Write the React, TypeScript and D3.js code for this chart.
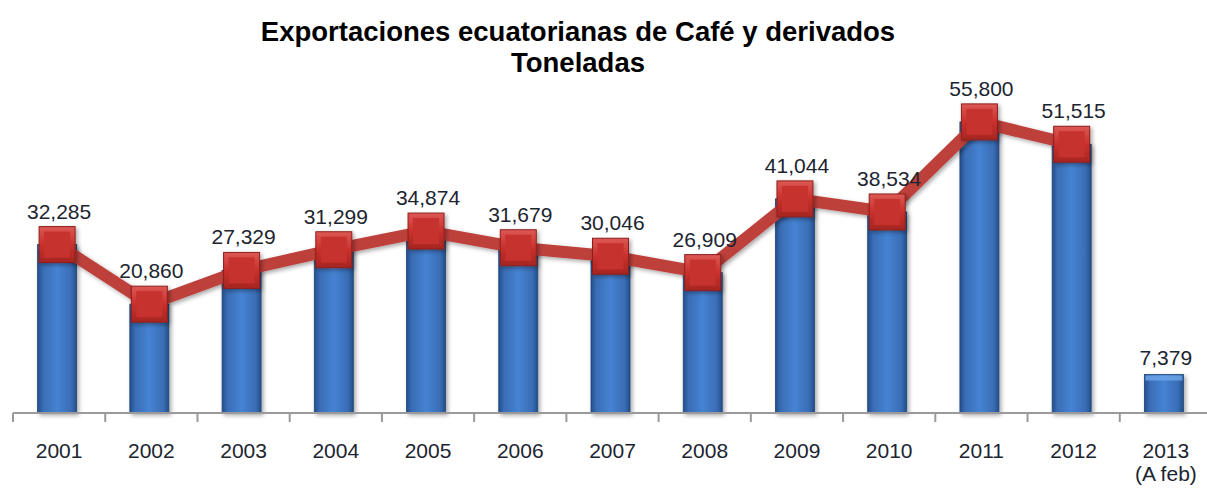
import { useEffect, useRef } from "react";
import { select, scaleBand, scaleLinear, line } from "d3";

const years = ["2001", "2002", "2003", "2004", "2005", "2006", "2007", "2008", "2009", "2010", "2011", "2012", "2013"];
const subLabels = ["", "", "", "", "", "", "", "", "", "", "", "", "(A feb)"];
const tonnes = [32285, 20860, 27329, 31299, 34874, 31679, 30046, 26909, 41044, 38534, 55800, 51515, 7379];
// the red line stops at 2012 (2013 is only a partial year)
const lineYears = years.slice(0, 12);

const W = 1207;
const H = 490;

const fmt = (v: number) => v.toLocaleString("en-US");

export default function App() {
  const svgRef = useRef<SVGSVGElement>(null);

  useEffect(() => {
    const svg = select(svgRef.current);
    svg.selectAll("*").remove();

    const x = scaleBand<string>().domain(years).range([13, 1212]).padding(0);
    const y = scaleLinear().domain([0, 60000]).range([413, 100]);
    const cx = (d: string) => (x(d) as number) + x.bandwidth() / 2 - 2;
    const barW = 39;
    const markerS = 36;

    const defs = svg.append("defs");
    const bg = defs.append("linearGradient").attr("id", "barGrad").attr("x1", 0).attr("x2", 1).attr("y1", 0).attr("y2", 0);
    bg.append("stop").attr("offset", "0%").attr("stop-color", "#234f8c");
    bg.append("stop").attr("offset", "14%").attr("stop-color", "#3a6db5");
    bg.append("stop").attr("offset", "50%").attr("stop-color", "#4583d3");
    bg.append("stop").attr("offset", "86%").attr("stop-color", "#3a6db5");
    bg.append("stop").attr("offset", "100%").attr("stop-color", "#234f8c");

    const mg = defs.append("linearGradient").attr("id", "mkGrad").attr("x1", 0).attr("x2", 0).attr("y1", 0).attr("y2", 1);
    mg.append("stop").attr("offset", "0%").attr("stop-color", "#dc5855");
    mg.append("stop").attr("offset", "50%").attr("stop-color", "#c9302c");
    mg.append("stop").attr("offset", "100%").attr("stop-color", "#a52622");

    const sh = defs.append("filter").attr("id", "shadow").attr("x", "-30%").attr("y", "-30%").attr("width", "160%").attr("height", "160%");
    sh.append("feDropShadow").attr("dx", 2).attr("dy", 2).attr("stdDeviation", 2).attr("flood-color", "#000").attr("flood-opacity", 0.35);

    // title
    svg.append("text")
      .attr("x", 578).attr("y", 41)
      .attr("text-anchor", "middle")
      .attr("font-family", "Liberation Sans, Arial, sans-serif")
      .attr("font-weight", "bold").attr("font-size", 27.5)
      .text("Exportaciones ecuatorianas de Café y derivados");
    svg.append("text")
      .attr("x", 578).attr("y", 72)
      .attr("text-anchor", "middle")
      .attr("font-family", "Liberation Sans, Arial, sans-serif")
      .attr("font-weight", "bold").attr("font-size", 27.5)
      .text("Toneladas");

    // bars
    svg.selectAll(".bar")
      .data(years)
      .join("rect")
      .attr("class", "bar")
      .attr("x", (d) => cx(d) - barW / 2)
      .attr("width", barW)
      .attr("y", (d, i) => y(tonnes[i]))
      .attr("height", (d, i) => y(0) - y(tonnes[i]))
      .attr("fill", "url(#barGrad)")
      .attr("stroke", "#1f4577")
      .attr("stroke-width", 0.8)
      .attr("filter", "url(#shadow)");
    // bevel highlight on bar tops
    svg.selectAll(".bevel")
      .data(years)
      .join("rect")
      .attr("class", "bevel")
      .attr("x", (d) => cx(d) - barW / 2 + 1)
      .attr("width", barW - 2)
      .attr("y", (d, i) => y(tonnes[i]) + 1)
      .attr("height", 5)
      .attr("fill", "#6ea6ea")
      .attr("opacity", 0.8);

    // axis
    const axis = svg.append("g").attr("stroke", "#9a9a9a").attr("stroke-width", 2);
    axis.append("line").attr("x1", 13).attr("x2", 1212).attr("y1", 413).attr("y2", 413);
    axis.selectAll("line.tick")
      .data([...years.map((d) => x(d) as number), 1212])
      .join("line")
      .attr("class", "tick")
      .attr("x1", (d) => d).attr("x2", (d) => d)
      .attr("y1", 413).attr("y2", 422);

    // line
    const lineGen = line<string>()
      .x((d) => cx(d))
      .y((d) => y(tonnes[years.indexOf(d)]));
    svg.append("path")
      .datum(lineYears)
      .attr("d", lineGen)
      .attr("fill", "none")
      .attr("stroke", "#bd3f3b")
      .attr("stroke-width", 12)
      .attr("stroke-linejoin", "round")
      .attr("filter", "url(#shadow)");

    // markers
    const mk = svg.selectAll(".mk")
      .data(lineYears)
      .join("g")
      .attr("class", "mk")
      .attr("transform", (d) => `translate(${cx(d)},${y(tonnes[years.indexOf(d)])})`)
      .attr("filter", "url(#shadow)");
    mk.append("rect")
      .attr("x", -markerS / 2).attr("y", -markerS / 2)
      .attr("width", markerS).attr("height", markerS)
      .attr("fill", "url(#mkGrad)")
      .attr("stroke", "#8e1f1c").attr("stroke-width", 1);
    mk.append("rect")
      .attr("x", -markerS / 2 + 5).attr("y", -markerS / 2 + 5)
      .attr("width", markerS - 10).attr("height", markerS - 10)
      .attr("fill", "#c6312d");

    // value labels
    svg.selectAll(".val")
      .data(years)
      .join("text")
      .attr("class", "val")
      .attr("x", (d) => cx(d) + 2)
      .attr("y", (d, i) => (i < 12 ? y(tonnes[i]) - 26 : y(tonnes[i]) - 10))
      .attr("text-anchor", "middle")
      .attr("font-family", "Liberation Sans, Arial, sans-serif")
      .attr("font-size", 21)
      .attr("fill", "#1c2430")
      .text((d, i) => fmt(tonnes[i]));

    // category labels
    svg.selectAll(".cat")
      .data(years)
      .join("text")
      .attr("class", "cat")
      .attr("x", (d) => cx(d) + 2)
      .attr("y", 458)
      .attr("text-anchor", "middle")
      .attr("font-family", "Liberation Sans, Arial, sans-serif")
      .attr("font-size", 21)
      .attr("fill", "#1c2430")
      .text((d) => d);
    svg.selectAll(".sub")
      .data(years.filter((d, i) => subLabels[i]))
      .join("text")
      .attr("class", "sub")
      .attr("x", (d) => cx(d) + 2)
      .attr("y", 481)
      .attr("text-anchor", "middle")
      .attr("font-family", "Liberation Sans, Arial, sans-serif")
      .attr("font-size", 21)
      .attr("fill", "#1c2430")
      .text((d) => subLabels[years.indexOf(d)]);
  }, []);

  return (
    <div style={{ position: "fixed", left: 0, top: 0 }}>
      <svg ref={svgRef} width={W} height={H} style={{ display: "block", background: "#fff" }} />
    </div>
  );
}
